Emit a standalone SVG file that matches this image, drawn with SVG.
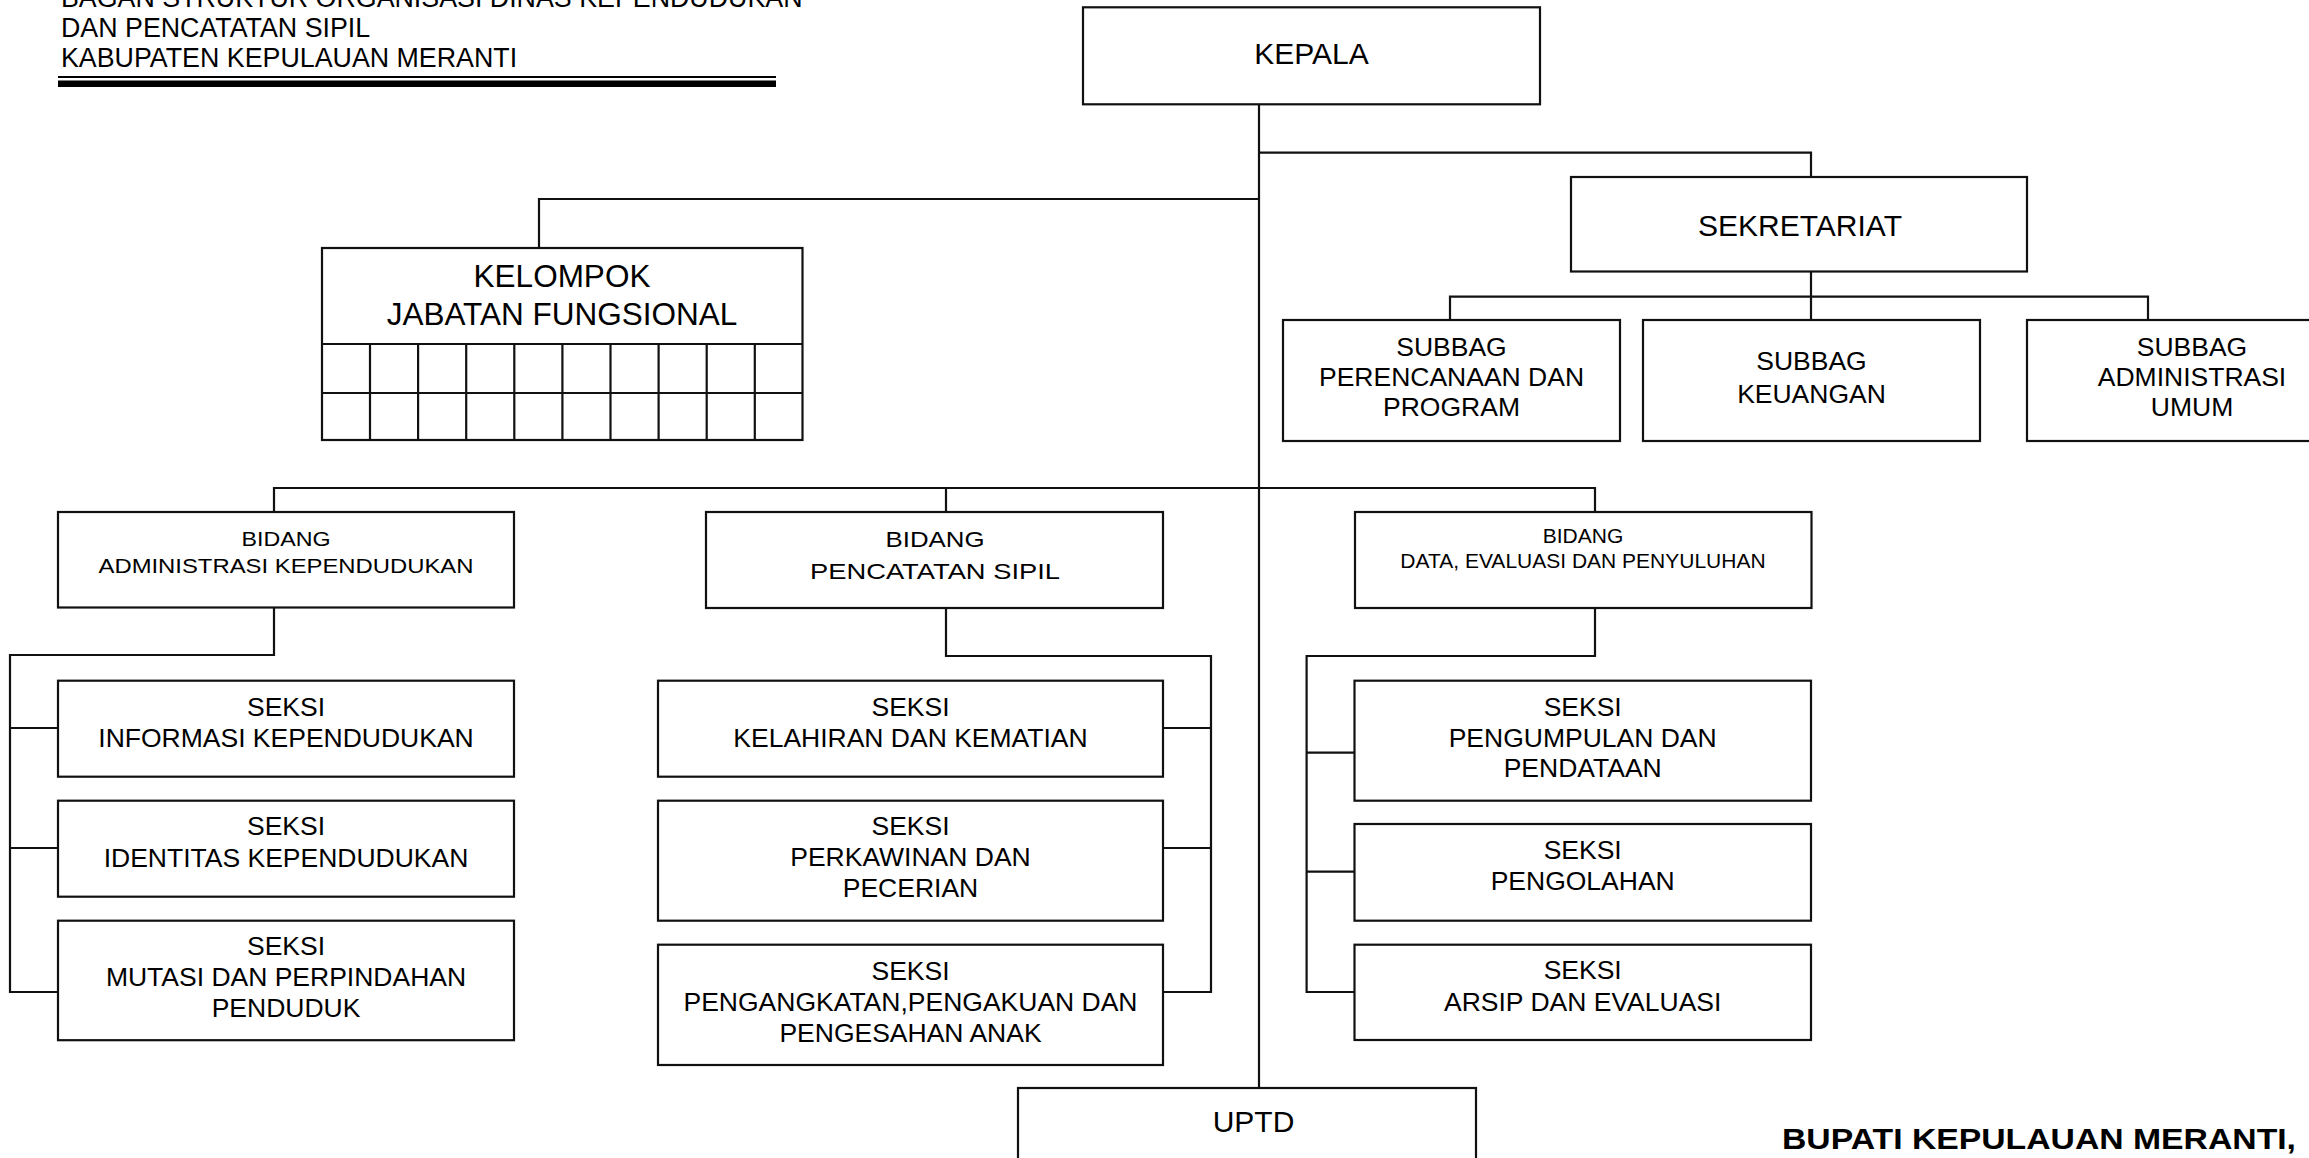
<svg xmlns="http://www.w3.org/2000/svg" width="2309" height="1158" viewBox="0 0 2309 1158">
<style>
.bg{fill:#fff}
.box{fill:#fff;stroke:#111;stroke-width:2.2}
.ln{fill:none;stroke:#111;stroke-width:2.2}
.t{font-family:"Liberation Sans",Arial,sans-serif;fill:#000;text-anchor:middle}
.s{font-size:26.5px}
.b{font-size:30px}
.h{font-family:"Liberation Sans",Arial,sans-serif;fill:#000;font-size:26.8px}
</style>
<rect class="bg" x="0" y="0" width="2309" height="1158"/>

<g id="title">
<text class="h" x="61" y="6.5">BAGAN STRUKTUR ORGANISASI DINAS KEPENDUDUKAN</text>
<text class="h" x="61" y="36.7">DAN PENCATATAN SIPIL</text>
<text class="h" x="61" y="67">KABUPATEN KEPULAUAN MERANTI</text>
<rect x="58" y="76" width="718" height="2" fill="#000"/>
<rect x="58" y="80.5" width="718" height="6.5" fill="#000"/>
</g>

<g id="connectors">
<path class="ln" d="M1259,104 V1088"/>
<path class="ln" d="M1259,199 H539 V248"/>
<path class="ln" d="M1259,152.7 H1811 V177"/>
<path class="ln" d="M1811,271 V320 M1450,320 V296.7 H2148 V320"/>
<path class="ln" d="M274,512 V488 H1595 V512 M946,488 V512"/>
<path class="ln" d="M274,607 V655 H10 V992 H58 M10,728 H58 M10,848 H58"/>
<path class="ln" d="M946,608 V656 H1211 V992 H1163 M1211,728 H1163 M1211,848 H1163"/>
<path class="ln" d="M1595,608 V656 H1306.6 V992 H1354.5 M1306.6,752.7 H1354.5 M1306.6,871.7 H1354.5"/>
</g>

<g id="kepala">
<rect class="box" x="1083" y="7.3" width="457" height="97"/>
<text class="t b" x="1311.5" y="64">KEPALA</text>
</g>

<g id="sekretariat">
<rect class="box" x="1571" y="177" width="456" height="94.5"/>
<text class="t b" x="1800" y="236">SEKRETARIAT</text>
</g>

<g id="subbag-perencanaan">
<rect class="box" x="1283" y="320" width="337" height="121"/>
<text class="t s"><tspan x="1451.5" y="356">SUBBAG</tspan><tspan x="1451.5" y="385.5">PERENCANAAN DAN</tspan><tspan x="1451.5" y="416">PROGRAM</tspan></text>
</g>

<g id="subbag-keuangan">
<rect class="box" x="1643" y="320" width="337" height="121"/>
<text class="t s"><tspan x="1811.5" y="370">SUBBAG</tspan><tspan x="1811.5" y="403">KEUANGAN</tspan></text>
</g>

<g id="subbag-umum">
<rect class="box" x="2027" y="320" width="340" height="121"/>
<text class="t s"><tspan x="2192" y="356">SUBBAG</tspan><tspan x="2192" y="385.5">ADMINISTRASI</tspan><tspan x="2192" y="416">UMUM</tspan></text>
</g>

<g id="kelompok">
<rect class="box" x="322" y="248" width="480.5" height="192"/>
<path class="ln" d="M322,344 H802.5 M322,393 H802.5 M370,344 V440 M418.1,344 V440 M466.2,344 V440 M514.3,344 V440 M562.4,344 V440 M610.5,344 V440 M658.6,344 V440 M706.7,344 V440 M754.8,344 V440"/>
<text class="t" style="font-size:31.5px"><tspan x="562" y="287">KELOMPOK</tspan><tspan x="562" y="324.5">JABATAN FUNGSIONAL</tspan></text>
</g>

<g id="bidang-adminduk">
<rect class="box" x="58" y="512" width="456" height="95.5"/>
<text class="t" style="font-size:21px"><tspan x="286" y="546" textLength="89" lengthAdjust="spacingAndGlyphs">BIDANG</tspan><tspan x="286" y="572.5" textLength="375" lengthAdjust="spacingAndGlyphs">ADMINISTRASI KEPENDUDUKAN</tspan></text>
</g>

<g id="bidang-capil">
<rect class="box" x="706" y="512" width="457" height="96"/>
<text class="t" style="font-size:22.5px"><tspan x="935" y="547" textLength="99" lengthAdjust="spacingAndGlyphs">BIDANG</tspan><tspan x="935" y="578.5" textLength="250" lengthAdjust="spacingAndGlyphs">PENCATATAN SIPIL</tspan></text>
</g>

<g id="bidang-data">
<rect class="box" x="1355" y="512" width="456.5" height="96"/>
<text class="t" style="font-size:21px"><tspan x="1583" y="543.3">BIDANG</tspan><tspan x="1583" y="568.3">DATA, EVALUASI DAN PENYULUHAN</tspan></text>
</g>

<g id="seksi-informasi">
<rect class="box" x="58" y="680.7" width="456" height="96"/>
<text class="t s"><tspan x="286" y="715.7">SEKSI</tspan><tspan x="286" y="746.7">INFORMASI KEPENDUDUKAN</tspan></text>
</g>
<g id="seksi-identitas">
<rect class="box" x="58" y="800.7" width="456" height="96"/>
<text class="t s"><tspan x="286" y="835">SEKSI</tspan><tspan x="286" y="866.7">IDENTITAS KEPENDUDUKAN</tspan></text>
</g>
<g id="seksi-mutasi">
<rect class="box" x="58" y="920.7" width="456" height="119.5"/>
<text class="t s"><tspan x="286" y="955">SEKSI</tspan><tspan x="286" y="986">MUTASI DAN PERPINDAHAN</tspan><tspan x="286" y="1016.7">PENDUDUK</tspan></text>
</g>

<g id="seksi-kelahiran">
<rect class="box" x="658" y="680.7" width="505" height="96"/>
<text class="t s"><tspan x="910.5" y="715.7">SEKSI</tspan><tspan x="910.5" y="746.7">KELAHIRAN DAN KEMATIAN</tspan></text>
</g>
<g id="seksi-perkawinan">
<rect class="box" x="658" y="800.7" width="505" height="120"/>
<text class="t s"><tspan x="910.5" y="835">SEKSI</tspan><tspan x="910.5" y="866">PERKAWINAN DAN</tspan><tspan x="910.5" y="897.3">PECERIAN</tspan></text>
</g>
<g id="seksi-pengangkatan">
<rect class="box" x="658" y="944.7" width="505" height="120.3"/>
<text class="t s"><tspan x="910.5" y="980">SEKSI</tspan><tspan x="910.5" y="1011">PENGANGKATAN,PENGAKUAN DAN</tspan><tspan x="910.5" y="1041.7">PENGESAHAN ANAK</tspan></text>
</g>

<g id="seksi-pengumpulan">
<rect class="box" x="1354.5" y="680.7" width="456.5" height="120"/>
<text class="t s"><tspan x="1582.7" y="715.7">SEKSI</tspan><tspan x="1582.7" y="746.7">PENGUMPULAN DAN</tspan><tspan x="1582.7" y="776.7">PENDATAAN</tspan></text>
</g>
<g id="seksi-pengolahan">
<rect class="box" x="1354.5" y="824" width="456.5" height="96.7"/>
<text class="t s"><tspan x="1582.7" y="859.3">SEKSI</tspan><tspan x="1582.7" y="890">PENGOLAHAN</tspan></text>
</g>
<g id="seksi-arsip">
<rect class="box" x="1354.5" y="944.7" width="456.5" height="95.3"/>
<text class="t s"><tspan x="1582.7" y="979.3">SEKSI</tspan><tspan x="1582.7" y="1010.7">ARSIP DAN EVALUASI</tspan></text>
</g>

<g id="uptd">
<rect class="box" x="1018" y="1088" width="458" height="100"/>
<text class="t b" x="1253.5" y="1132">UPTD</text>
</g>

<g id="bupati">
<text x="1782" y="1149" style="font-family:'Liberation Sans',Arial,sans-serif;font-weight:bold;font-size:29.5px;fill:#000" textLength="514" lengthAdjust="spacingAndGlyphs">BUPATI KEPULAUAN MERANTI,</text>
</g>
</svg>
